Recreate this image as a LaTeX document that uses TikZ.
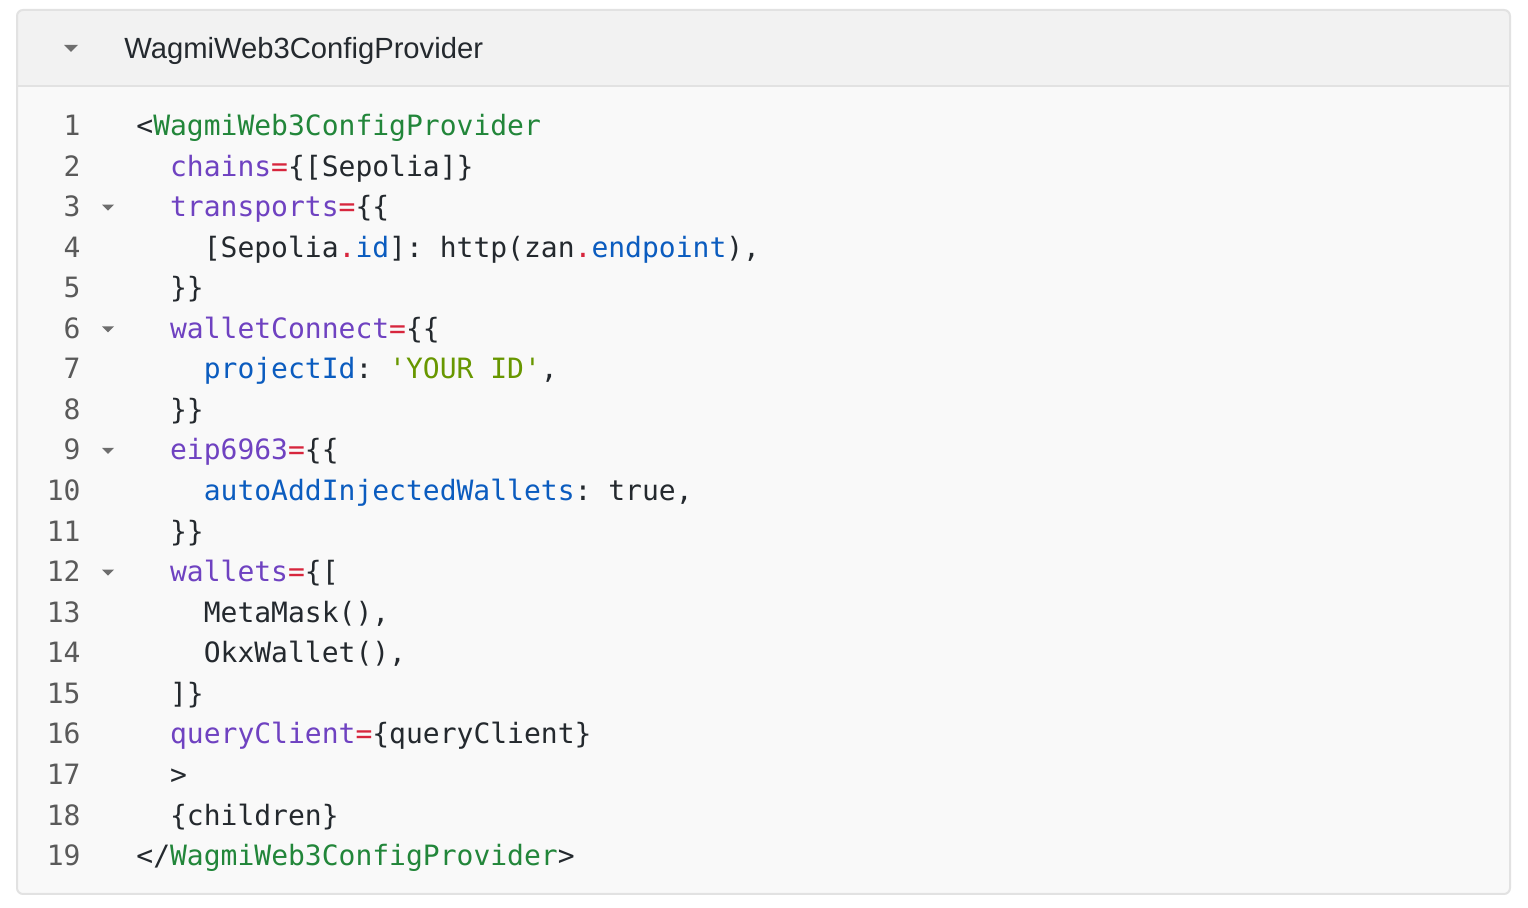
\documentclass[tikz,border=0pt]{standalone}
\usepackage{fontspec}
\newfontfamily\codefont{DejaVu Sans Mono}
\newfontfamily\headfont{Liberation Sans}

\definecolor{codebg}{HTML}{F9F9F9}
\definecolor{headbg}{HTML}{F2F2F2}
\definecolor{panelline}{HTML}{E2E2E2}
\definecolor{codeblack}{HTML}{24292E}
\definecolor{numgray}{HTML}{5A5A5A}
\definecolor{foldgray}{HTML}{6E6E6E}
\definecolor{taggreen}{HTML}{22863A}
\definecolor{attrpurple}{HTML}{6F42C1}
\definecolor{oppred}{HTML}{D7263D}
\definecolor{propblue}{HTML}{0B5CBF}
\definecolor{strgreen}{HTML}{689700}

\newcommand{\tg}[1]{\textcolor{taggreen}{#1}}
\newcommand{\at}[1]{\textcolor{attrpurple}{#1}}
\newcommand{\eq}{\textcolor{oppred}{=}}
\newcommand{\dt}{\textcolor{oppred}{.}}
\newcommand{\pb}[1]{\textcolor{propblue}{#1}}
\newcommand{\st}[1]{\textcolor{strgreen}{#1}}

\tikzset{
  codeline/.style={anchor=base west, inner sep=0pt, text=codeblack,
    font=\codefont\fontsize{14}{16}\selectfont\frenchspacing},
  lineno/.style={anchor=base east, inner sep=0pt, text=numgray,
    font=\codefont\fontsize{14}{16}\selectfont},
}

\begin{document}
\begin{tikzpicture}[x=0.5pt,y=-0.5pt]
    \useasboundingbox (0,0) rectangle (1528,908);
    \fill[white] (0,0) rectangle (1528,908);

    % Panel and header band
    \fill[codebg, rounded corners=3pt] (17,10) rectangle (1510,894);
    \begin{scope}
        \clip[rounded corners=3pt] (17,10) rectangle (1510,894);
        \fill[headbg] (17,10) rectangle (1510,86);
    \end{scope}
    \draw[panelline, line width=1pt] (17,86) -- (1510,86);
    \draw[panelline, line width=1pt, rounded corners=3pt] (17,10) rectangle (1510,894);

    % Header
    \fill[foldgray] (64,45) -- (78,45) -- (71,52) -- cycle;
    \node[anchor=base west, inner sep=0pt, text=codeblack,
          font=\headfont\fontsize{14.6}{17}\selectfont] (title) at (124,59) {WagmiWeb3ConfigProvider};

    % Line numbers
    \foreach \i in {1,...,19}
        \node[lineno] (n\i) at (81,{135.5+(\i-1)*40.56}) {\i};

    % Fold markers
    \foreach \b in {216.6,338.3,460,581.7}
        \fill[foldgray] (102,\b-12) -- (114,\b-12) -- (108,\b-6) -- cycle;

    % Code
    \node[codeline] (l1)  at (136,135.5)    {<\tg{WagmiWeb3ConfigProvider}};
    \node[codeline] (l2)  at (169.7,176.06) {\at{chains}\eq\{[Sepolia]\}};
    \node[codeline] (l3)  at (169.7,216.62) {\at{transports}\eq\{\{};
    \node[codeline] (l4)  at (203.4,257.18) {[Sepolia\dt\pb{id}]: http(zan\dt\pb{endpoint}),};
    \node[codeline] (l5)  at (169.7,297.74) {\}\}};
    \node[codeline] (l6)  at (169.7,338.3)  {\at{walletConnect}\eq\{\{};
    \node[codeline] (l7)  at (203.4,378.86) {\pb{projectId}: \st{\textquotesingle YOUR ID\textquotesingle},};
    \node[codeline] (l8)  at (169.7,419.42) {\}\}};
    \node[codeline] (l9)  at (169.7,459.98) {\at{eip6963}\eq\{\{};
    \node[codeline] (l10) at (203.4,500.54) {\pb{autoAddInjectedWallets}: true,};
    \node[codeline] (l11) at (169.7,541.1)  {\}\}};
    \node[codeline] (l12) at (169.7,581.66) {\at{wallets}\eq\{[};
    \node[codeline] (l13) at (203.4,622.22) {MetaMask(),};
    \node[codeline] (l14) at (203.4,662.78) {OkxWallet(),};
    \node[codeline] (l15) at (169.7,703.34) {]\}};
    \node[codeline] (l16) at (169.7,743.9)  {\at{queryClient}\eq\{queryClient\}};
    \node[codeline] (l17) at (169.7,784.46) {>};
    \node[codeline] (l18) at (169.7,825.02) {\{children\}};
    \node[codeline] (l19) at (136,865.58)   {</\tg{WagmiWeb3ConfigProvider}>};

\end{tikzpicture}
\end{document}
